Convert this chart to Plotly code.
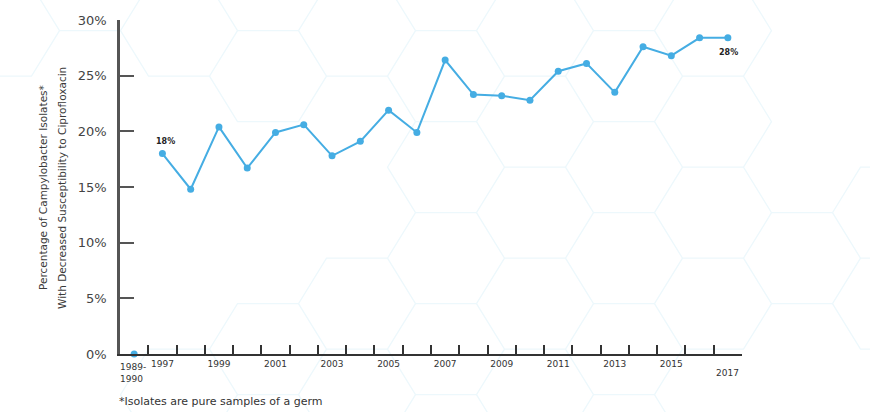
import plotly.graph_objects as go

# Surveillance periods and share of isolates with decreased ciprofloxacin susceptibility (%)
periods = ["1989-1990", "1997", "1998", "1999", "2000", "2001", "2002", "2003",
           "2004", "2005", "2006", "2007", "2008", "2009", "2010", "2011",
           "2012", "2013", "2014", "2015", "2016", "2017"]
resistance_pct = [0.0, 18.0, 14.8, 20.4, 16.7, 19.9, 20.6, 17.8, 19.1, 21.9, 19.9,
                  26.4, 23.3, 23.2, 22.8, 25.4, 26.1, 23.5, 27.6, 26.8, 28.4, 28.4]
x_tick_text = ["", "1997", "", "1999", "", "2001", "", "2003", "", "2005", "",
               "2007", "", "2009", "", "2011", "", "2013", "", "2015", "", ""]
y_tick_vals = [0, 5, 10, 15, 20, 25, 30]
y_tick_text = ["0%", "5%", "10%", "15%", "20%", "25%", "30%"]
value_labels = {"1997": "18%", "2017": "28%"}

BLUE = "#45ade3"
INK = "#333333"
FONT = "DejaVu Sans, Verdana, sans-serif"

# Page geometry in pixels
W, H = 870, 412
ML, MR, MT, MB = 120, 128, 20, 58
PW, PH = W - ML - MR, H - MT - MB


def px_to_paper(px, py):
    return (px - ML) / PW, (H - MB - py) / PH


# Faint honeycomb backdrop (flat-topped hexagons), built as one SVG path in paper units
HEX_TOP = 61.0      # length of the horizontal edges
HEX_SLANT = 28.0    # horizontal run of the slanted edges
HEX_HALF_H = 45.5   # half height
COL_STEP = HEX_TOP + HEX_SLANT
COL_X0, EVEN_Y0 = 446.0, 167.2


def hex_visible(cx, cy):
    if cx < 0:
        return False
    if cx < 120 and cy > 40:
        return False
    if cx > 740 and cy < 180:
        return False
    if cx > 740 and cy > 320:
        return False
    if cx > 700 and cy > 380:
        return False
    if 120 < cx < 380 and 80 < cy < 240:
        return False
    if 200 < cx < 300 and 240 <= cy < 270:
        return False
    if 150 < cx < 200 and 280 < cy < 320:
        return False
    return True


path_parts = []
for j in range(-5, 6):
    cx = COL_X0 + j * COL_STEP
    y_start = EVEN_Y0 if j % 2 == 0 else EVEN_Y0 - HEX_HALF_H
    for k in range(-3, 5):
        cy = y_start + k * 2 * HEX_HALF_H
        if cy < -HEX_HALF_H or cy > H + HEX_HALF_H:
            continue
        if not hex_visible(cx, cy):
            continue
        pts = [
            (cx - HEX_TOP / 2, cy - HEX_HALF_H),
            (cx + HEX_TOP / 2, cy - HEX_HALF_H),
            (cx + HEX_TOP / 2 + HEX_SLANT, cy),
            (cx + HEX_TOP / 2, cy + HEX_HALF_H),
            (cx - HEX_TOP / 2, cy + HEX_HALF_H),
            (cx - HEX_TOP / 2 - HEX_SLANT, cy),
        ]
        seg = []
        for i, (px, py) in enumerate(pts):
            u, v = px_to_paper(px, py)
            seg.append(("M" if i == 0 else "L") + f"{u:.5f},{v:.5f}")
        path_parts.append(" ".join(seg) + " Z")

fig = go.Figure()

# Baseline period shown as a lone point (not joined to the annual series)
fig.add_trace(go.Scatter(
    x=periods[:1], y=resistance_pct[:1], mode="markers",
    marker=dict(color=BLUE, size=7), cliponaxis=False,
    hoverinfo="x+y", showlegend=False,
))
# Annual series 1997-2017
fig.add_trace(go.Scatter(
    x=periods[1:], y=resistance_pct[1:], mode="lines+markers",
    line=dict(color=BLUE, width=2),
    marker=dict(color=BLUE, size=7), cliponaxis=False,
    hoverinfo="x+y", showlegend=False,
))

annotations = []
for period, text in value_labels.items():
    idx = periods.index(period)
    above = period == "1997"
    annotations.append(dict(
        x=idx, y=resistance_pct[idx], xref="x", yref="y", text=f"<b>{text}</b>",
        showarrow=False, font=dict(family=FONT, size=8, color="#222222"),
        xshift=3 if above else 1, yshift=12 if above else -15,
    ))

# Special x labels: the two-line baseline label and the lowered final year
annotations.append(dict(
    x=0, y=0, xref="x", yref="y", text="1989-<br>1990",
    showarrow=False, xanchor="left", yanchor="top", align="left",
    xshift=-16, yshift=-6, font=dict(family=FONT, size=9, color=INK),
))
annotations.append(dict(
    x=len(periods) - 1, y=0, xref="x", yref="y", text=periods[-1],
    showarrow=False, xanchor="center", yanchor="top",
    yshift=-12, font=dict(family=FONT, size=9, color=INK),
))

# Two-line rotated y-axis title
tx1, ty = px_to_paper(43, 188)
tx2, _ = px_to_paper(62, 186)
annotations.append(dict(
    x=tx1, y=ty, xref="paper", yref="paper",
    text="Percentage of Campylobacter Isolates*", textangle=-90,
    showarrow=False, xanchor="center", yanchor="middle",
    font=dict(family=FONT, size=10.5, color="#3a3a3a"),
))
annotations.append(dict(
    x=tx2, y=ty, xref="paper", yref="paper",
    text="With Decreased Susceptibility to Ciprofloxacin", textangle=-90,
    showarrow=False, xanchor="center", yanchor="middle",
    font=dict(family=FONT, size=10.5, color="#3a3a3a"),
))

# Footnote
fx, fy = px_to_paper(117, 401)
annotations.append(dict(
    x=fx, y=fy, xref="paper", yref="paper",
    text="*Isolates are pure samples of a germ",
    showarrow=False, xanchor="left", yanchor="middle",
    font=dict(family=FONT, size=11, color=INK),
))

fig.update_layout(
    width=W, height=H,
    margin=dict(l=ML, r=MR, t=MT, b=MB),
    paper_bgcolor="white", plot_bgcolor="rgba(0,0,0,0)",
    font=dict(family=FONT, color=INK),
    showlegend=False,
    annotations=annotations,
    shapes=[dict(
        type="path", xref="paper", yref="paper", layer="below",
        path=" ".join(path_parts),
        line=dict(color="#edf8fc", width=1.3),
    )],
)

fig.update_xaxes(
    type="category", categoryorder="array", categoryarray=periods,
    range=[-0.5, len(periods) - 0.5],
    tickmode="array", tickvals=list(range(len(periods))), ticktext=x_tick_text,
    tickangle=0,
    tickson="boundaries", ticks="inside", ticklen=9, tickwidth=1.5,
    tickcolor=INK, showline=True, linecolor=INK, linewidth=2,
    showgrid=False, zeroline=False,
    tickfont=dict(family=FONT, size=9, color=INK),
)
fig.update_yaxes(
    range=[0, 30], tickmode="array", tickvals=y_tick_vals, ticktext=y_tick_text,
    ticks="inside", ticklen=14, tickwidth=2, tickcolor="#555555",
    showline=True, linecolor="#555555", linewidth=2.5,
    showgrid=False, zeroline=False, ticklabelstandoff=8,
    tickfont=dict(family=FONT, size=13, color="#444444"),
)

fig.write_html("out.html")
